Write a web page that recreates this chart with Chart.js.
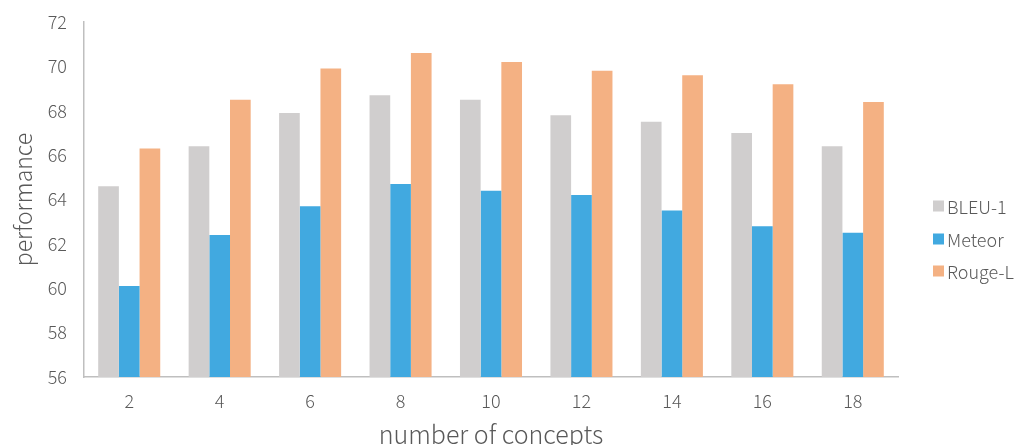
<!DOCTYPE html>
<html>
<head>
<meta charset="utf-8">
<script src="https://cdn.jsdelivr.net/npm/chart.js@4/dist/chart.umd.min.js"></script>
<style>
  html, body { margin: 0; padding: 0; background: #ffffff; }
  #wrap { width: 1023px; height: 445px; position: relative; }
</style>
</head>
<body>
<div id="wrap"><canvas id="c" width="1023" height="445"></canvas></div>
<script>
const categories = ['2', '4', '6', '8', '10', '12', '14', '16', '18'];
const bleu1 = [64.6, 66.4, 67.9, 68.7, 68.5, 67.8, 67.5, 67.0, 66.4];
const meteor = [60.1, 62.4, 63.7, 64.7, 64.4, 64.2, 63.5, 62.8, 62.5];
const rougeL = [66.3, 68.5, 69.9, 70.6, 70.2, 69.8, 69.6, 69.2, 68.4];
const seriesNames = ['BLEU-1', 'Meteor', 'Rouge-L'];
const yTitle = 'performance';
const xTitle = 'number of concepts';

const FONT = "'Noto Sans CJK SC', 'Noto Sans', sans-serif";
const TXT = '#595959';
const AXIS = '#BFBFBF';
const colors = ['#D0CECE', '#41A9E0', '#F4B183'];

const sideLegend = {
  id: 'sideLegend',
  afterDraw(chart) {
    const ctx = chart.ctx;
    const x0 = chart.chartArea.right + 35;
    const ys = [206, 239, 271];
    ctx.save();
    ctx.font = '300 18px ' + FONT;
    ctx.textBaseline = 'middle';
    ctx.textAlign = 'left';
    chart.data.datasets.forEach((ds, i) => {
      const y = ys[i];
      ctx.fillStyle = ds.backgroundColor;
      ctx.fillRect(x0, y - 5.5, 11, 11);
      ctx.fillStyle = TXT;
      ctx.fillText(ds.label, x0 + 14, y + 1);
    });
    ctx.restore();
  }
};

new Chart(document.getElementById('c'), {
  type: 'bar',
  data: {
    labels: categories,
    datasets: [
      { label: seriesNames[0], data: bleu1, backgroundColor: colors[0] },
      { label: seriesNames[1], data: meteor, backgroundColor: colors[1] },
      { label: seriesNames[2], data: rougeL, backgroundColor: colors[2] }
    ]
  },
  options: {
    responsive: false,
    animation: false,
    devicePixelRatio: 1,
    layout: { padding: { top: 22, right: 125, left: 0, bottom: 0 } },
    datasets: { bar: { barPercentage: 1.0, categoryPercentage: 0.686 } },
    plugins: {
      legend: { display: false },
      tooltip: { enabled: false }
    },
    scales: {
      x: {
        grid: { display: false, drawTicks: false },
        border: { display: true, color: AXIS, width: 1.5 },
        ticks: { color: TXT, font: { family: FONT, size: 18, weight: '300' }, padding: 13 },
        title: { display: true, text: xTitle, color: TXT, font: { family: FONT, size: 25, weight: '300', lineHeight: 1 }, padding: { top: 0, bottom: -2 } },
        afterFit(scale) { scale.height = 68; }
      },
      y: {
        min: 56, max: 72,
        grid: { display: false, drawTicks: false },
        border: { display: true, color: AXIS, width: 1.5 },
        ticks: { stepSize: 2, color: TXT, font: { family: FONT, size: 18, weight: '300' }, padding: 17 },
        title: { display: true, text: yTitle, color: TXT, font: { family: FONT, size: 23, weight: '300', lineHeight: 1.2 }, padding: { top: 9, bottom: 0 } },
        afterFit(scale) { scale.width = 84; scale.paddingTop = 0; scale.paddingBottom = 0; }
      }
    }
  },
  plugins: [sideLegend]
});
</script>
</body>
</html>
